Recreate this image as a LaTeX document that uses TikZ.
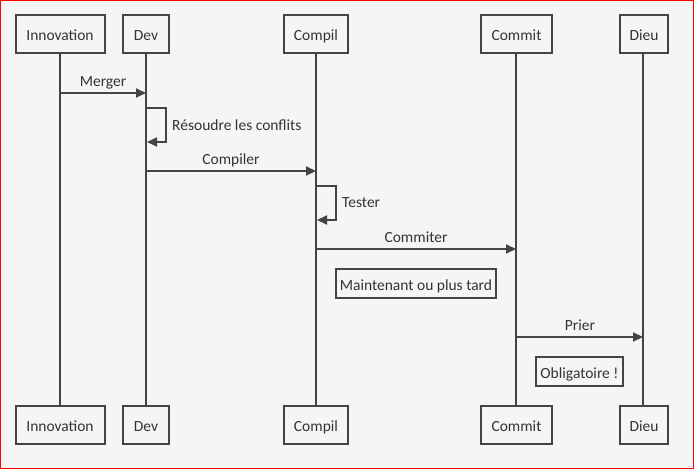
\documentclass[tikz,border=0pt]{standalone}
\usepackage{fontspec}
\setmainfont{Carlito}
\usetikzlibrary{arrows.meta}
\definecolor{bg}{HTML}{F5F5F5}
\definecolor{ln}{HTML}{444444}
\definecolor{tx}{HTML}{333333}
\begin{document}
\begin{tikzpicture}[x=1pt,y=-1pt,
  fnt/.style={font=\fontsize{15.5}{17}\selectfont,text=tx,text height=13.5pt,text depth=0.5pt},
  actor/.style={fnt,draw=ln,line width=2pt,fill=bg,minimum height=38pt,inner sep=0pt},
  notebox/.style={fnt,draw=ln,line width=2pt,fill=bg,minimum height=29pt,inner sep=0pt},
  life/.style={draw=ln,line width=2pt},
  msg/.style={draw=ln,line width=2pt,-{Triangle[length=10pt,width=9pt]}},
  lbl/.style={fnt,inner sep=0pt}]
\useasboundingbox (0,0) rectangle (694,469);
\fill[bg] (0,0) rectangle (694,469);
\draw[red,line width=1pt] (0.5,0.5) rectangle (693.5,468.5);
% lifelines first
\coordinate (it) at (60,53); \coordinate (ib) at (60,405);
\coordinate (dt) at (146,53); \coordinate (db) at (146,405);
\coordinate (ct) at (316,53); \coordinate (cb) at (316,405);
\coordinate (mt) at (516,53); \coordinate (mb) at (516,405);
\coordinate (gt) at (643,53); \coordinate (gb) at (643,405);
\draw[life] (it) -- (ib);
\draw[life] (dt) -- (db);
\draw[life] (ct) -- (cb);
\draw[life] (mt) -- (mb);
\draw[life] (gt) -- (gb);
% actors
\node[actor,minimum width=89pt] (inn1) at (60,34) {Innovation};
\node[actor,minimum width=46pt] (dev1) at (146,34) {Dev};
\node[actor,minimum width=64pt] (com1) at (316,34) {Compil};
\node[actor,minimum width=71pt] (cmt1) at (516.5,34) {Commit};
\node[actor,minimum width=48pt] (dieu1) at (644,34) {Dieu};
\node[actor,minimum width=89pt] (inn2) at (60,425) {Innovation};
\node[actor,minimum width=46pt] (dev2) at (146,425) {Dev};
\node[actor,minimum width=64pt] (com2) at (316,425) {Compil};
\node[actor,minimum width=71pt] (cmt2) at (516.5,425) {Commit};
\node[actor,minimum width=48pt] (dieu2) at (644,425) {Dieu};
% messages
\coordinate (m1a) at (60,93); \coordinate (m1b) at (146,93);
\draw[msg] (m1a) -- (m1b);
\node[lbl] (l1) at (103,80) {Merger};
\coordinate (s1a) at (147,108); \coordinate (s1b) at (147,142);
\draw[msg] (s1a) -- (166,108) -- (166,142) -- (s1b);
\node[lbl,anchor=west] (l2) at (172,124) {Résoudre les conflits};
\coordinate (m2a) at (146,171); \coordinate (m2b) at (316,171);
\draw[msg] (m2a) -- (m2b);
\node[lbl] (l3) at (231,158) {Compiler};
\coordinate (s2a) at (317,186); \coordinate (s2b) at (317,220);
\draw[msg] (s2a) -- (336,186) -- (336,220) -- (s2b);
\node[lbl,anchor=west] (l4) at (342,201) {Tester};
\coordinate (m3a) at (316,249); \coordinate (m3b) at (516,249);
\draw[msg] (m3a) -- (m3b);
\node[lbl] (l5) at (416,236) {Commiter};
\node[notebox,minimum width=160pt] (n1) at (416,283.5) {Maintenant ou plus tard};
\coordinate (m4a) at (516,337); \coordinate (m4b) at (643,337);
\draw[msg] (m4a) -- (m4b);
\node[lbl] (l6) at (580,324) {Prier};
\node[notebox,minimum width=87pt] (n2) at (579.5,371.5) {Obligatoire !};
\end{tikzpicture}
\end{document}
